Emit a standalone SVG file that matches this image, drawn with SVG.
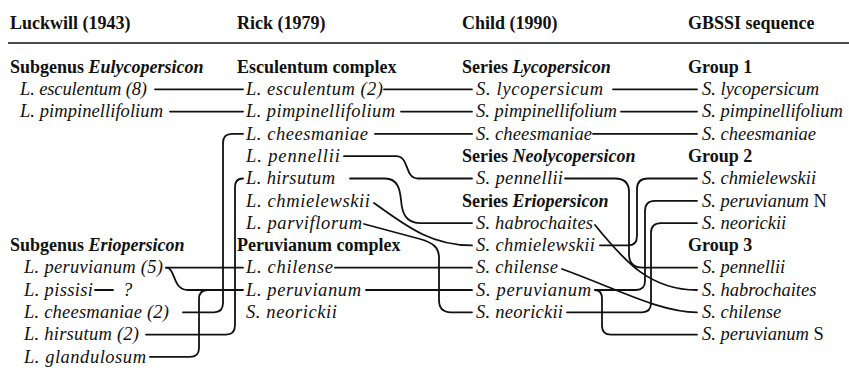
<svg xmlns="http://www.w3.org/2000/svg" width="849" height="380" viewBox="0 0 849 380" font-family="'Liberation Serif', 'Times New Roman', serif">
<style>
text{font-family:'Liberation Serif','Times New Roman',serif;fill:#111}
.h{font-size:18px;font-weight:bold}
.i{font-size:18.5px;font-style:italic}
.bi{font-style:italic}
.r{font-style:normal}
.c path{fill:none;stroke:#111;stroke-width:1.8;stroke-linecap:round;stroke-linejoin:round}
</style>
<rect width="849" height="380" fill="#fff"/>
<g id="headers">
<text class="h" x="10" y="29">Luckwill (1943)</text>
<text class="h" x="237" y="29">Rick (1979)</text>
<text class="h" x="462" y="29">Child (1990)</text>
<text class="h" x="688" y="29">GBSSI sequence</text>
<line x1="8" y1="43" x2="849" y2="43" stroke="#111" stroke-width="1.5"/>
</g>
<g id="luckwill">
<g id="lw-eulyco"><text class="h" x="10" y="72.7">Subgenus <tspan class="bi">Eulycopersicon</tspan></text></g>
<g id="lw-esculentum"><text class="i" x="20" y="95" textLength="127">L. esculentum (8)</text></g>
<g id="lw-pimpinellifolium"><text class="i" x="20" y="117.3" textLength="143">L. pimpinellifolium</text></g>
<g id="lw-erio"><text class="h" x="10" y="251.1">Subgenus <tspan class="bi">Eriopersicon</tspan></text></g>
<g id="lw-peruvianum"><text class="i" x="24" y="273.4" textLength="139">L. peruvianum (5)</text></g>
<g id="lw-pissisi"><text class="i" x="24" y="295.7" textLength="69">L. pissisi</text><text class="i" x="123" y="295.7">?</text></g>
<g id="lw-cheesmaniae"><text class="i" x="24" y="318" textLength="145">L. cheesmaniae (2)</text></g>
<g id="lw-hirsutum"><text class="i" x="24" y="340.3" textLength="115">L. hirsutum (2)</text></g>
<g id="lw-glandulosum"><text class="i" x="24" y="362.6" textLength="122">L. glandulosum</text></g>
</g>
<g id="rick">
<g id="rk-esc-complex"><text class="h" x="237" y="72.7">Esculentum complex</text></g>
<g id="rk-esculentum"><text class="i" x="246" y="95" textLength="137">L. esculentum (2)</text></g>
<g id="rk-pimpinellifolium"><text class="i" x="246" y="117.3" textLength="149">L. pimpinellifolium</text></g>
<g id="rk-cheesmaniae"><text class="i" x="246" y="139.6" textLength="122">L. cheesmaniae</text></g>
<g id="rk-pennellii"><text class="i" x="246" y="161.9" textLength="94">L. pennellii</text></g>
<g id="rk-hirsutum"><text class="i" x="246" y="184.2" textLength="89">L. hirsutum</text></g>
<g id="rk-chmielewskii"><text class="i" x="246" y="206.5" textLength="124">L. chmielewskii</text></g>
<g id="rk-parviflorum"><text class="i" x="246" y="228.8" textLength="116">L. parviflorum</text></g>
<g id="rk-per-complex"><text class="h" x="237" y="251.1">Peruvianum complex</text></g>
<g id="rk-chilense"><text class="i" x="246" y="273.4" textLength="87">L. chilense</text></g>
<g id="rk-peruvianum"><text class="i" x="246" y="295.7" textLength="115">L. peruvianum</text></g>
<g id="rk-neorickii"><text class="i" x="246" y="318" textLength="91">S. neorickii</text></g>
</g>
<g id="child">
<g id="ch-lyco"><text class="h" x="462" y="72.7">Series <tspan class="bi">Lycopersicon</tspan></text></g>
<g id="ch-lycopersicum"><text class="i" x="476" y="95" textLength="127">S. lycopersicum</text></g>
<g id="ch-pimpinellifolium"><text class="i" x="476" y="117.3">S. pimpinellifolium</text></g>
<g id="ch-cheesmaniae"><text class="i" x="476" y="139.6" textLength="116">S. cheesmaniae</text></g>
<g id="ch-neolyco"><text class="h" x="462" y="161.9">Series <tspan class="bi">Neolycopersicon</tspan></text></g>
<g id="ch-pennellii"><text class="i" x="476" y="184.2" textLength="87">S. pennellii</text></g>
<g id="ch-erio"><text class="h" x="462" y="206.5">Series <tspan class="bi">Eriopersicon</tspan></text></g>
<g id="ch-habrochaites"><text class="i" x="476" y="228.8" textLength="117">S. habrochaites</text></g>
<g id="ch-chmielewskii"><text class="i" x="476" y="251.1" textLength="119">S. chmielewskii</text></g>
<g id="ch-chilense"><text class="i" x="476" y="273.4" textLength="82">S. chilense</text></g>
<g id="ch-peruvianum"><text class="i" x="476" y="295.7" textLength="115">S. peruvianum</text></g>
<g id="ch-neorickii"><text class="i" x="476" y="318" textLength="87">S. neorickii</text></g>
</g>
<g id="gbssi">
<g id="gb-group1"><text class="h" x="688" y="72.7">Group 1</text></g>
<g id="gb-lycopersicum"><text class="i" x="702" y="95">S. lycopersicum</text></g>
<g id="gb-pimpinellifolium"><text class="i" x="702" y="117.3">S. pimpinellifolium</text></g>
<g id="gb-cheesmaniae"><text class="i" x="702" y="139.6">S. cheesmaniae</text></g>
<g id="gb-group2"><text class="h" x="688" y="161.9">Group 2</text></g>
<g id="gb-chmielewskii"><text class="i" x="702" y="184.2">S. chmielewskii</text></g>
<g id="gb-peruvianum-n"><text class="i" x="702" y="206.5">S. peruvianum <tspan class="r">N</tspan></text></g>
<g id="gb-neorickii"><text class="i" x="702" y="228.8">S. neorickii</text></g>
<g id="gb-group3"><text class="h" x="688" y="251.1">Group 3</text></g>
<g id="gb-pennellii"><text class="i" x="702" y="273.4">S. pennellii</text></g>
<g id="gb-habrochaites"><text class="i" x="702" y="295.7">S. habrochaites</text></g>
<g id="gb-chilense"><text class="i" x="702" y="318">S. chilense</text></g>
<g id="gb-peruvianum-s"><text class="i" x="702" y="340.3">S. peruvianum <tspan class="r">S</tspan></text></g>
</g>
<g id="connectors" class="c">
<path d="M155,89.3 H243"/>
<path d="M170,111.6 H243"/>
<path d="M243,133.9 H232 Q223,133.9 223,143 V303 Q223,312.3 214,312.3 H183"/>
<path d="M243,178.5 Q235,178.5 235,187 V325 Q235,334.6 226,334.6 H146"/>
<path d="M166,267.7 H243"/>
<path d="M166,267.7 C176,267.7 172,290 188,290 H243"/>
<path d="M150,356.9 H190 Q199,356.9 199,348 V299 Q199,290 208,290"/>
<path d="M95,290 H113"/>
<path d="M384,89.3 H472"/>
<path d="M401,111.6 H472"/>
<path d="M375,133.9 H472"/>
<path d="M344,156.2 H396 C410,156.2 404,178.5 418,178.5 H472"/>
<path d="M350,178.5 H385 C398,178.5 400,190 401,200 C402,212 405,223.1 420,223.1 H472"/>
<path d="M374,203 C405,225 430,245.4 472,245.4"/>
<path d="M364,224 L420,239 C434,243 439,248 439,258 V300 Q439,312.3 451,312.3 H472"/>
<path d="M335,267.7 H472"/>
<path d="M366,290 H472"/>
<path d="M613,89.3 H697"/>
<path d="M621,111.6 H697"/>
<path d="M593,133.9 H697"/>
<path d="M565,178.5 H615 Q629,178.5 629,192 V254 Q629,267.7 643,267.7 H697"/>
<path d="M600,245.4 H628 Q637,245.4 637,236 V189 Q637,178.5 648,178.5 H697"/>
<path d="M595,290 H636 Q645,290 645,281 V211 Q645,200.8 655,200.8 H697"/>
<path d="M567,312.3 H642 Q651,312.3 651,303 V233 Q651,223.1 661,223.1 H697"/>
<path d="M595,290 Q602,290 602,299 V326 Q602,334.6 611,334.6 H697"/>
<path d="M595,225 C625,262 650,290 697,290"/>
<path d="M562,269 C620,290 660,312.3 697,312.3"/>
</g>
</svg>
